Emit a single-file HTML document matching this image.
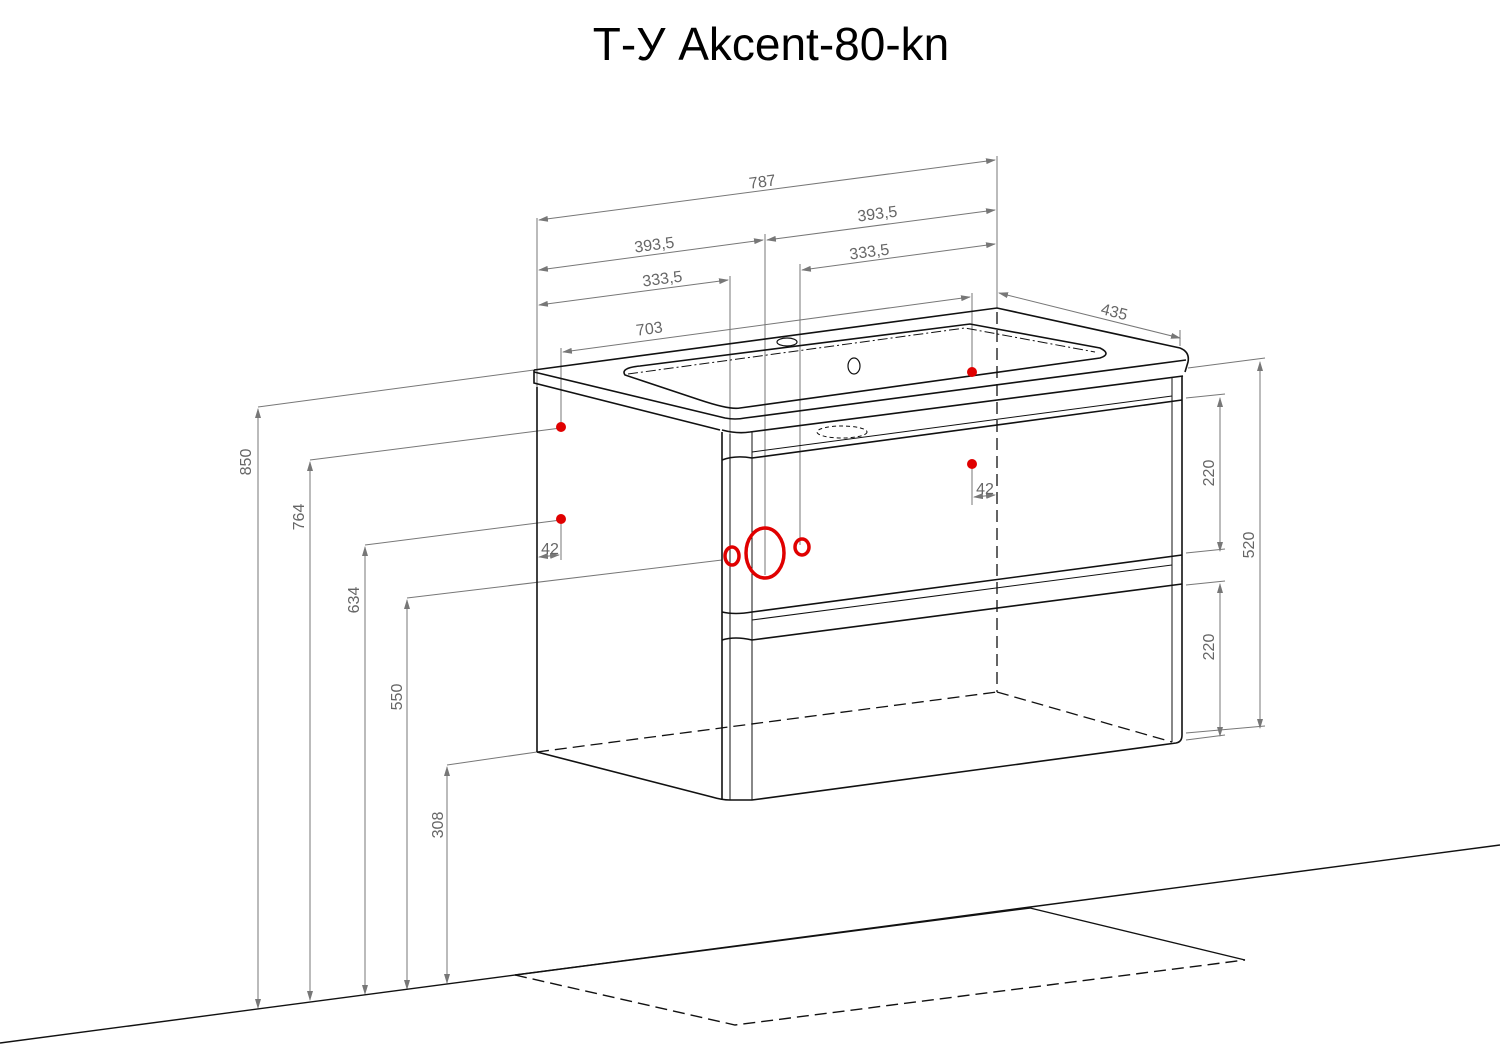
<!DOCTYPE html>
<html><head><meta charset="utf-8"><style>
html,body{margin:0;padding:0;background:#fff;}
svg{display:block;}
text{font-family:"Liberation Sans",sans-serif;}
</style></head><body>
<svg width="1500" height="1061" viewBox="0 0 1500 1061" xmlns="http://www.w3.org/2000/svg">
<text x="771" y="60" font-size="46" text-anchor="middle" fill="#000">Т-У Akcent-80-kn</text>

<defs>
<marker id="a" markerWidth="10" markerHeight="6" refX="9" refY="3" orient="auto-start-reverse" markerUnits="userSpaceOnUse">
<path d="M0,0 L10,3 L0,6 z" fill="#777"/></marker>
</defs>

<g stroke="#777" stroke-width="1" fill="none">
<line x1="537" y1="218" x2="537" y2="390"/>
<line x1="997" y1="156" x2="997" y2="308"/>
<line x1="765" y1="234" x2="765" y2="575"/>
<line x1="730" y1="276" x2="730" y2="560"/>
<line x1="800" y1="264" x2="800" y2="545"/>
<line x1="561" y1="348" x2="561" y2="428"/>
<line x1="972" y1="293" x2="972" y2="372"/>
<line x1="972" y1="464" x2="972" y2="505"/>
<line x1="561" y1="519" x2="561" y2="560"/>
<line x1="539" y1="220" x2="995" y2="160" marker-start="url(#a)" marker-end="url(#a)"/>
<line x1="767" y1="240" x2="995" y2="210" marker-start="url(#a)" marker-end="url(#a)"/>
<line x1="539" y1="270" x2="763" y2="240" marker-start="url(#a)" marker-end="url(#a)"/>
<line x1="802" y1="270" x2="995" y2="244" marker-start="url(#a)" marker-end="url(#a)"/>
<line x1="539" y1="305" x2="728" y2="280" marker-start="url(#a)" marker-end="url(#a)"/>
<line x1="563" y1="352" x2="970" y2="297" marker-start="url(#a)" marker-end="url(#a)"/>
<line x1="999" y1="293" x2="1180" y2="338" marker-start="url(#a)" marker-end="url(#a)"/>
<line x1="1180" y1="330" x2="1180" y2="346"/>
<line x1="539" y1="557" x2="559" y2="555" marker-start="url(#a)" marker-end="url(#a)"/>
<line x1="974" y1="497" x2="995" y2="495" marker-start="url(#a)" marker-end="url(#a)"/>
<line x1="258" y1="407" x2="534" y2="370"/>
<line x1="258" y1="409" x2="258" y2="1008" marker-start="url(#a)" marker-end="url(#a)"/>
<line x1="310" y1="460" x2="561" y2="428"/>
<line x1="310" y1="462" x2="310" y2="1000" marker-start="url(#a)" marker-end="url(#a)"/>
<line x1="365" y1="545" x2="561" y2="520"/>
<line x1="365" y1="547" x2="365" y2="994" marker-start="url(#a)" marker-end="url(#a)"/>
<line x1="407" y1="598" x2="722" y2="560"/>
<line x1="407" y1="600" x2="407" y2="989" marker-start="url(#a)" marker-end="url(#a)"/>
<line x1="447" y1="765" x2="537" y2="752"/>
<line x1="447" y1="767" x2="447" y2="983" marker-start="url(#a)" marker-end="url(#a)"/>
<line x1="1188" y1="368" x2="1265" y2="358"/>
<line x1="1186" y1="398" x2="1225" y2="394"/>
<line x1="1186" y1="553" x2="1225" y2="549"/>
<line x1="1186" y1="585" x2="1225" y2="581"/>
<line x1="1186" y1="740" x2="1225" y2="735"/>
<line x1="1186" y1="733" x2="1265" y2="726"/>
<line x1="1220" y1="398" x2="1220" y2="551" marker-start="url(#a)" marker-end="url(#a)"/>
<line x1="1220" y1="584" x2="1220" y2="736" marker-start="url(#a)" marker-end="url(#a)"/>
<line x1="1260" y1="362" x2="1260" y2="728" marker-start="url(#a)" marker-end="url(#a)"/>
</g>

<g fill="#666" font-size="16">
<text transform="translate(763,187) rotate(-7.4)" text-anchor="middle">787</text>
<text transform="translate(878,219) rotate(-7.4)" text-anchor="middle">393,5</text>
<text transform="translate(655,250) rotate(-7.4)" text-anchor="middle">393,5</text>
<text transform="translate(870,257) rotate(-7.4)" text-anchor="middle">333,5</text>
<text transform="translate(663,284) rotate(-7.4)" text-anchor="middle">333,5</text>
<text transform="translate(650,334) rotate(-7.4)" text-anchor="middle">703</text>
<text transform="translate(1113,317) rotate(14)" text-anchor="middle">435</text>
<text x="550" y="554" text-anchor="middle">42</text>
<text x="985" y="494" text-anchor="middle">42</text>
<text transform="translate(251,462) rotate(-90)" text-anchor="middle">850</text>
<text transform="translate(304,517) rotate(-90)" text-anchor="middle">764</text>
<text transform="translate(359,600) rotate(-90)" text-anchor="middle">634</text>
<text transform="translate(402,697) rotate(-90)" text-anchor="middle">550</text>
<text transform="translate(443,825) rotate(-90)" text-anchor="middle">308</text>
<text transform="translate(1214,473) rotate(-90)" text-anchor="middle">220</text>
<text transform="translate(1214,647) rotate(-90)" text-anchor="middle">220</text>
<text transform="translate(1254,545) rotate(-90)" text-anchor="middle">520</text>
</g>

<g stroke="#111" stroke-width="1.6" fill="none">
<path d="M534,370 L997,308 L1180,348 Q1190,352 1188,362 L1185,372"/>
<path d="M534,370 L534,383 L720,430"/>
<path d="M534,372 L725,418 Q735,420 745,418 L1186,360"/>
<path d="M750,432 L1183,376"/>
<path d="M722,430 Q737,434 750,432"/>
<path d="M625,375 Q620,368 640,366 L970,324 L1100,348 Q1112,354 1100,358 L740,408 Q730,410 700,400 Z"/>
<path d="M628,374 L965,328 L1095,352" stroke-width="1" stroke-dasharray="10 3 2 3"/>
<ellipse cx="787" cy="342" rx="10" ry="4" stroke-width="1.2"/>
<ellipse cx="854" cy="366" rx="6" ry="8" stroke-width="1.2"/>
<ellipse cx="842" cy="432" rx="25" ry="6" stroke-width="1" stroke-dasharray="4 3"/>
<line x1="537" y1="387" x2="537" y2="752"/>
<path d="M537,752 L712,797 Q722,800 730,800 L752,800 L1176,743 Q1182,742 1182,735 L1182,376"/>
<line x1="1172" y1="378" x2="1172" y2="742" stroke-width="1"/>
<line x1="722" y1="432" x2="722" y2="800"/>
<line x1="730" y1="434" x2="730" y2="800" stroke-width="1"/>
<line x1="752" y1="432" x2="752" y2="800" stroke-width="1"/>
<path d="M722,460 Q735,455 752,458 L1182,400"/>
<path d="M722,612 Q735,615 752,612 L1182,555"/>
<path d="M722,640 Q735,636 752,640 L1182,584"/>
<line x1="752" y1="452" x2="1172" y2="396" stroke-width="1"/>
<line x1="752" y1="620" x2="1172" y2="565" stroke-width="1"/>
</g>
<g stroke="#111" stroke-width="1.3" fill="none" stroke-dasharray="12 6">
<line x1="997" y1="312" x2="997" y2="692"/>
<line x1="537" y1="752" x2="997" y2="692"/>
<line x1="997" y1="692" x2="1172" y2="742"/>
</g>

<g stroke="#111" stroke-width="1.4" fill="none">
<line x1="0" y1="1043" x2="1500" y2="845"/>
<line x1="515" y1="975" x2="1030" y2="908"/>
<line x1="1030" y1="908" x2="1245" y2="960"/>
<path d="M515,975 L735,1025 L1245,960" stroke-dasharray="12 6"/>
</g>

<g fill="#e00000">
<circle cx="561" cy="427" r="5"/>
<circle cx="561" cy="519" r="5"/>
<circle cx="972" cy="372" r="5"/>
<circle cx="972" cy="464" r="5"/>
</g>
<g stroke="#e00000" stroke-width="3.5" fill="none">
<ellipse cx="765" cy="553" rx="19" ry="25"/>
<ellipse cx="732" cy="556" rx="7" ry="9"/>
<ellipse cx="802" cy="547" rx="7" ry="8"/>
</g>
</svg>
</body></html>
